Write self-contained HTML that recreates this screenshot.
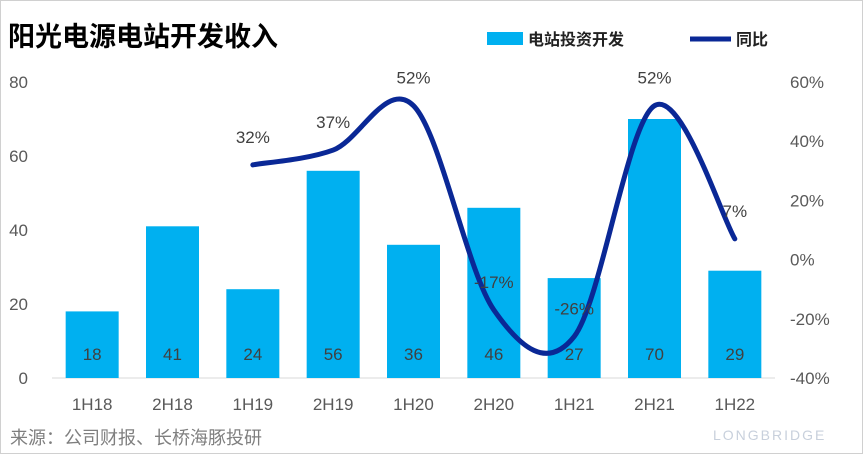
<!DOCTYPE html>
<html><head><meta charset="utf-8"><style>
body{margin:0;background:#fff;}
svg{display:block;font-family:"Liberation Sans","Noto Sans CJK SC",sans-serif;}
</style></head><body>
<svg id="c" width="863" height="454" viewBox="0 0 863 454">
<rect x="0.5" y="0.5" width="862" height="453" fill="#fff" stroke="#d0d0d0"/>
<text x="8" y="46" font-size="27" font-weight="bold" fill="#000">阳光电源电站开发收入</text>
<rect x="487" y="32" width="36" height="13" fill="#00b0f0"/>
<text x="528" y="45" font-size="16" font-weight="bold" fill="#222">电站投资开发</text>
<line x1="690" y1="39" x2="731" y2="39" stroke="#0a2896" stroke-width="5"/>
<text x="736" y="45" font-size="16" font-weight="bold" fill="#222">同比</text>
<line x1="52" y1="378" x2="775" y2="378" stroke="#d9d9d9"/>
<g id="marks"></g>
<text x="10" y="444" font-size="18" fill="#7f7f7f">来源：公司财报、长桥海豚投研</text>
<text x="713" y="440" font-size="14" fill="#c8d0dc" letter-spacing="2">LONGBRIDGE</text>
</svg>
<script>
const categories=["1H18","2H18","1H19","2H19","1H20","2H20","1H21","2H21","1H22"];
const revenue=[18,41,24,56,36,46,27,70,29];
const yoy=[null,null,32,37,52,-17,-26,52,7];
const leftTicks=[0,20,40,60,80];
const rightTicks=[-40,-20,0,20,40,60];
const NS="http://www.w3.org/2000/svg";
const g=document.getElementById("marks");
const x0=52,x1=775,yB=378,yT=82;
const step=(x1-x0)/categories.length;
const xc=i=>x0+step*(i+0.5);
const yL=v=>yB-(v/80)*(yB-yT);
const yR=v=>yB-((v+40)/100)*(yB-yT);
function el(t,a,txt){const e=document.createElementNS(NS,t);for(const k in a)e.setAttribute(k,a[k]);if(txt!=null)e.textContent=txt;g.appendChild(e);return e;}
leftTicks.forEach(v=>{const e=el("text",{x:28,y:yL(v)+6,"font-size":17,"text-anchor":"end",fill:"#595959"},v);

});
rightTicks.forEach(v=>{const e=el("text",{x:790,y:yR(v)+6,"font-size":17,fill:"#595959"},v+"%");

});
categories.forEach((c,i)=>{
const b=el("rect",{x:xc(i)-26.5,y:yL(revenue[i]),width:53,height:yB-yL(revenue[i]),fill:"#00b0f0"});


const t=el("text",{x:xc(i),y:360,"font-size":17,"text-anchor":"middle",fill:"#404040"},revenue[i]);


const xl=el("text",{x:xc(i),y:410,"font-size":17,"text-anchor":"middle",fill:"#595959"},c);


});
const pts=[];yoy.forEach((v,i)=>{if(v!==null)pts.push([xc(i),yR(v),v]);});
let d="M"+pts[0][0]+","+pts[0][1];
for(let i=0;i<pts.length-1;i++){
const p0=pts[Math.max(i-1,0)],p1=pts[i],p2=pts[i+1],p3=pts[Math.min(i+2,pts.length-1)];
const k=1/6;
d+=" C"+(p1[0]+(p2[0]-p0[0])*k)+","+(p1[1]+(p2[1]-p0[1])*k)+" "+(p2[0]-(p3[0]-p1[0])*k)+","+(p2[1]-(p3[1]-p1[1])*k)+" "+p2[0]+","+p2[1];}
const ln=el("path",{d:d,fill:"none",stroke:"#0a2896","stroke-width":5,"stroke-linecap":"round"});


pts.forEach(p=>{
const t=el("text",{x:p[0],y:p[1]-22,"font-size":17,"text-anchor":"middle",fill:"#404040"},p[2]+"%");


});
</script>
</body></html>
